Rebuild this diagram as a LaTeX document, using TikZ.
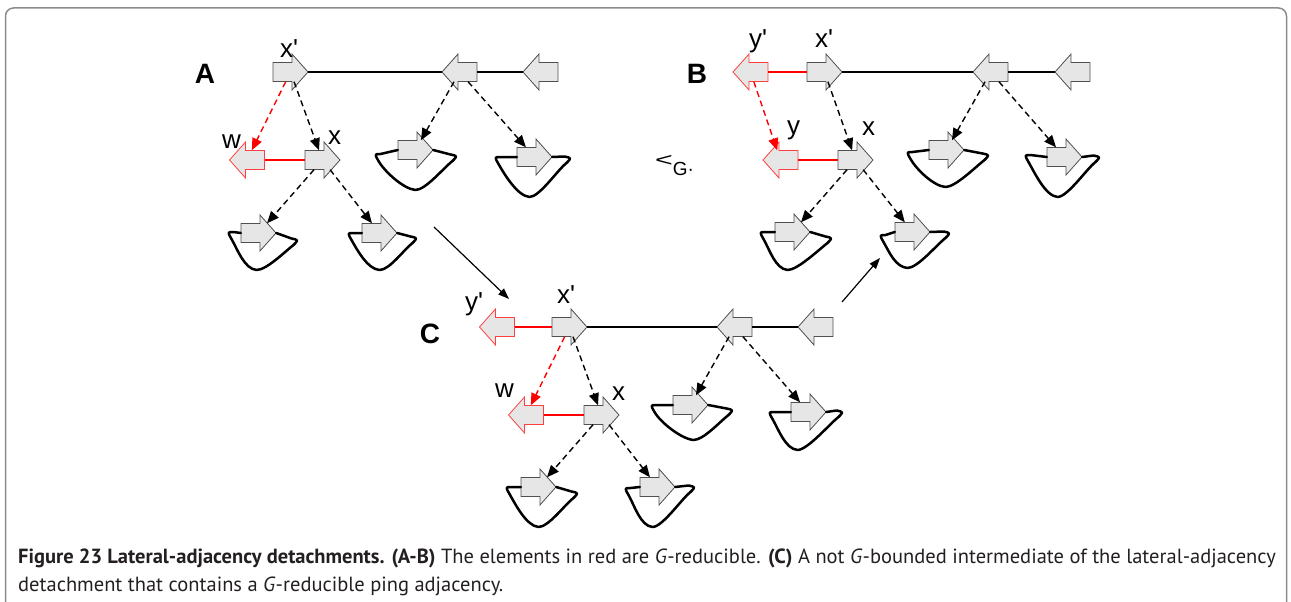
\documentclass[tikz,border=0pt]{standalone}
\usepackage{fontspec}
\setmainfont{Liberation Sans}
\newfontfamily\lblfont{Liberation Sans}
\newfontfamily\capfont{PT Sans}
\usetikzlibrary{arrows.meta,calc}
\definecolor{arrfill}{HTML}{E6E6E6}
\definecolor{arrdraw}{HTML}{505050}
\definecolor{arrred}{HTML}{FF4040}
\definecolor{lred}{HTML}{FF0000}
\definecolor{framec}{HTML}{8C8C8C}
\definecolor{capc}{HTML}{231F20}
\tikzset{
 abox/.style={rectangle, inner sep=0pt, minimum width=35pt, minimum height=19pt},
 arrshape/.style={fill=arrfill, draw=arrdraw, line width=0.8pt, line join=miter},
 redarr/.style={draw=arrred},
 hline/.style={line width=2pt, black},
 redline/.style={line width=2.5pt, lred},
 dconn/.style={line width=1.4pt, dash pattern=on 6pt off 4pt, -{Triangle[length=12pt,width=10pt]}},
 rdconn/.style={dconn, lred},
 loopl/.style={line width=2.5pt, line join=round, line cap=round},
 trans/.style={line width=1.2pt, -{Triangle[length=11pt,width=8pt]}},
 lbl/.style={anchor=base west, inner sep=0pt, font=\lblfont\fontsize{26}{26}\selectfont},
 panel/.style={anchor=base, inner sep=0pt, font=\lblfont\bfseries\fontsize{28}{28}\selectfont},
 frame/.style={draw=framec, line width=1.5pt, rounded corners=8pt},
 capt/.style={anchor=base west, inner sep=0pt, text=capc, font=\capfont\fontsize{20.5}{24}\selectfont}
}
\newcommand{\myRA}[3][]{\node[abox] (#2) at (#3) {};
 \draw[arrshape,#1,shift={(#2.center)}] (-17.5,-9.5) -- (1.5,-9.5) -- (1.5,-18) -- (17.5,0) -- (1.5,18) -- (1.5,9.5) -- (-17.5,9.5) -- cycle;}
\newcommand{\myLA}[3][]{\node[abox] (#2) at (#3) {};
 \draw[arrshape,#1,shift={(#2.center)},xscale=-1] (-17.5,-9.5) -- (1.5,-9.5) -- (1.5,-18) -- (17.5,0) -- (1.5,18) -- (1.5,9.5) -- (-17.5,9.5) -- cycle;}
% loop: node, left corner, bottom, right corner (offsets from the node centre)
\newcommand{\myloop}[4]{%
 \coordinate (#1L) at ($(#1.center)+(#2)$);
 \coordinate (#1B) at ($(#1.center)+(#3)$);
 \coordinate (#1R) at ($(#1.center)+(#4)$);
 \draw[loopl] (#1.west) -- ($(#1L)+(6,0)$) .. controls (#1L) .. ($(#1L)+(4,7)$)
   .. controls ($(#1L)+(10,17.5)$) and ($(#1B)+(-12,-1)$) .. (#1B)
   .. controls ($(#1B)+(10,0)$) and ($(#1R)+(-14,12)$) .. ($(#1R)+(-5,5)$)
   .. controls (#1R) .. ($(#1R)+(-7,-1.5)$) -- (#1.east);}
\begin{document}
\begin{tikzpicture}[x=1pt,y=-1pt]
\useasboundingbox (0,0) rectangle (1291,602);
\draw[frame] (5.5,602) -- (5.5,8) -- (1286.5,8) -- (1286.5,602);

% ---------- Panel A ----------
\node[panel] (pA) at (205,84) {A};
\myRA{Axp}{290.5,72}
\myLA{Aa2}{459.5,72}
\myLA{Aa3}{540.5,72}
\myLA[redarr]{Aw}{247,160}
\myRA{Ax}{322.5,160}
\myRA{Ala}{258.5,233}
\myRA{Alb}{379.5,233}
\myRA{Alc}{415.5,150}
\myRA{Ald}{534.5,157}
\myloop{Ala}{-31,-1}{-2,37}{40,7}
\myloop{Alb}{-32,0}{0,37}{38,5}
\myloop{Alc}{-41,4}{0,40}{42,6}
\myloop{Ald}{-40,0}{-5,40}{37,1}
\draw[hline] (Axp) -- (Aa2);
\draw[hline] (Aa2) -- (Aa3);
\draw[redline] (Aw) -- (Ax);
\draw[rdconn] (Axp) -- (Aw);
\draw[dconn] (Axp) -- (Ax);
\draw[dconn] (Ax) -- (Ala);
\draw[dconn] (Ax) -- (Alb);
\draw[dconn] (Aa2) -- (Alc);
\draw[dconn] (Aa2) -- (Ald);
\node[lbl] (lAxp) at (280,58) {x'};
\node[lbl] (lAw) at (222,148) {w};
\node[lbl] (lAx) at (328,144) {x};

% ---------- Panel B ----------
\node[panel] (pB) at (697,84) {B};
\myLA[redarr]{Byp}{750.5,72}
\myRA{Bxp}{824.5,72}
\myLA{Bb2}{990.5,72}
\myLA{Bb3}{1072.5,72}
\myLA[redarr]{By}{780.5,160}
\myRA{Bx}{855.5,160}
\myRA{Bla}{792.5,232}
\myRA{Blb}{912.5,232}
\myRA{Blc}{946.5,150}
\myRA{Bld}{1064.5,157}
\myloop{Bla}{-33,0}{-5,38}{40,6}
\myloop{Blb}{-33,3}{-5,36}{38,1}
\myloop{Blc}{-40,2}{-1,37}{43,5}
\myloop{Bld}{-40,-2}{-7,40}{36,0}
\draw[redline] (Byp) -- (Bxp);
\draw[hline] (Bxp) -- (Bb2);
\draw[hline] (Bb2) -- (Bb3);
\draw[redline] (By) -- (Bx);
\draw[rdconn] (Byp) -- (By);
\draw[dconn] (Bxp) -- (Bx);
\draw[dconn] (Bx) -- (Bla);
\draw[dconn] (Bx) -- (Blb);
\draw[dconn] (Bb2) -- (Blc);
\draw[dconn] (Bb2) -- (Bld);
\node[lbl] (lByp) at (749,48) {y'};
\node[lbl] (lBxp) at (815,48) {x'};
\node[lbl] (lBy) at (787,134) {y};
\node[lbl] (lBx) at (862,135) {x};
\node[anchor=base west, inner sep=0pt, font=\lblfont\fontsize{19}{19}\selectfont] (prec) at (655,175) {\raisebox{9pt}{\scalebox{1.6}[1.0]{<}}G·};

% ---------- Panel C ----------
\node[panel] (pC) at (430,343) {C};
\myLA[redarr]{Cyp}{497,327}
\myRA{Cxp}{569.5,327}
\myLA{Cc2}{734.5,327}
\myLA{Cc3}{815.5,327}
\myLA[redarr]{Cw}{526,415}
\myRA{Cx}{601.5,415}
\myRA{Cla}{538.5,487}
\myRA{Clb}{657.5,487}
\myRA{Clc}{690.5,405}
\myRA{Cld}{808.5,412}
\myloop{Cla}{-33,0}{0,40}{40,6}
\myloop{Clb}{-33,1}{-5,40}{38,0}
\myloop{Clc}{-40,0}{3,35}{43,5}
\myloop{Cld}{-40,0}{-11,38}{35,0}
\draw[redline] (Cyp) -- (Cxp);
\draw[hline] (Cxp) -- (Cc2);
\draw[hline] (Cc2) -- (Cc3);
\draw[redline] (Cw) -- (Cx);
\draw[rdconn] (Cxp) -- (Cw);
\draw[dconn] (Cxp) -- (Cx);
\draw[dconn] (Cx) -- (Cla);
\draw[dconn] (Cx) -- (Clb);
\draw[dconn] (Cc2) -- (Clc);
\draw[dconn] (Cc2) -- (Cld);
\node[lbl] (lCyp) at (465,310) {y'};
\node[lbl] (lCxp) at (557,303) {x'};
\node[lbl] (lCw) at (495,397) {w};
\node[lbl] (lCx) at (612,400) {x};

% ---------- transitions ----------
\coordinate (t1a) at (434,227);
\coordinate (t1b) at (509,299);
\coordinate (t2a) at (842,302);
\coordinate (t2b) at (880,258);
\draw[trans] (t1a) -- (t1b);
\draw[trans] (t2a) -- (t2b);

% ---------- caption ----------
\node[capt] (cap1) at (18,563) {\textbf{Figure 23 Lateral-adjacency detachments. (A-B)} The elements in red are \textit{G}-reducible. \textbf{(C)} A not \textit{G}-bounded intermediate of the lateral-adjacency};
\node[capt] (cap2) at (18,591) {detachment that contains a \textit{G}-reducible ping adjacency.};
\end{tikzpicture}
\end{document}
